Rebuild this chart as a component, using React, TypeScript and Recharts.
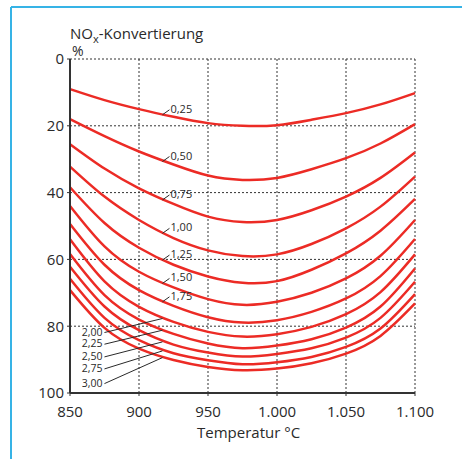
import React from 'react';
import { LineChart, Line, XAxis, YAxis, CartesianGrid, ReferenceDot } from 'recharts';

// temperature steps (°C) read along the x axis
const temps = [850, 875, 900, 925, 950, 975, 1000, 1025, 1050, 1075, 1100];

// NOx conversion (%) per NH3/NOx ratio
const nox025 = [9.0, 12.3, 15.0, 17.3, 19.2, 20.0, 19.8, 18.2, 16.2, 13.6, 10.2];
const nox050 = [18.0, 23.1, 27.7, 31.6, 34.9, 36.2, 35.6, 33.0, 29.7, 25.3, 19.5];
const nox075 = [25.5, 32.8, 38.7, 43.4, 47.2, 48.8, 48.2, 45.3, 41.2, 35.6, 28.0];
const nox100 = [32.2, 41.2, 48.2, 53.6, 57.3, 59.0, 58.5, 55.4, 50.7, 44.2, 35.2];
const nox125 = [38.4, 49.1, 56.5, 61.6, 65.1, 67.0, 66.5, 63.1, 58.2, 51.4, 41.9];
const nox150 = [44.0, 56.1, 63.7, 68.4, 71.9, 73.6, 72.7, 70.0, 65.7, 58.9, 48.2];
const nox175 = [49.4, 61.6, 69.2, 73.9, 77.3, 78.9, 78.2, 75.7, 71.7, 65.0, 53.9];
const nox200 = [54.0, 66.6, 74.2, 78.7, 81.7, 83.1, 82.4, 80.2, 76.4, 69.8, 58.5];
const nox225 = [58.4, 70.7, 78.0, 82.3, 85.2, 86.6, 85.8, 83.9, 80.4, 74.1, 62.7];
const nox250 = [62.2, 74.1, 81.2, 85.5, 87.9, 89.1, 88.3, 86.6, 83.4, 77.5, 66.7];
const nox275 = [65.8, 77.5, 84.2, 88.1, 90.2, 91.4, 90.8, 89.2, 86.2, 80.7, 70.4];
const nox300 = [69.2, 80.5, 86.7, 90.1, 92.2, 93.2, 92.7, 91.1, 88.2, 82.9, 73.2];

const ratioLabels = ['0,25', '0,50', '0,75', '1,00', '1,25', '1,50', '1,75', '2,00', '2,25', '2,50', '2,75', '3,00'];

// where each label's leader line touches its curve
const labelTemp = 917;
const labelNox = [16.7, 30.7, 42.2, 52.2, 60.2, 67.2, 72.7, 77.7, 81.2, 84.7, 87.4, 89.4];

const xTicks = [850, 900, 950, 1000, 1050, 1100];
const xTickLabels = ['850', '900', '950', '1.000', '1.050', '1.100'];
const yTicks = [0, 20, 40, 60, 80, 100];

const series = [nox025, nox050, nox075, nox100, nox125, nox150, nox175, nox200, nox225, nox250, nox275, nox300];

const chartData = temps.map((t, i) => {
  const row: any = { t };
  series.forEach((s, k) => {
    row[`s${k}`] = s[i];
  });
  return row;
});

const FONT = '"Open Sans", "Noto Sans", sans-serif';
const RED = '#ec2b25';
const INK = '#2a2a2a';

// vertical drop (px) of the long leaders for the lower labels
const lowLeader = [14, 14, 15, 18, 26];

const CurveLabel = ({ cx, cy, text, idx }: any) => {
  if (cx == null || cy == null) return null;
  if (idx < 7) {
    return (
      <g>
        <line x1={cx} y1={cy} x2={cx + 7} y2={cy - 5} stroke={INK} strokeWidth={1} />
        <text x={cx + 8} y={cy - 2} fontSize={11} fontFamily={FONT} fill={INK}>
          {text}
        </text>
      </g>
    );
  }
  const dy = lowLeader[idx - 7];
  return (
    <g>
      <line x1={cx} y1={cy} x2={cx - 58} y2={cy + dy} stroke={INK} strokeWidth={1} />
      <text x={cx - 60} y={cy + dy + 3} fontSize={10.5} fontFamily={FONT} fill={INK} textAnchor="end">
        {text}
      </text>
    </g>
  );
};

export default function App() {
  const tickStyle = { fontSize: 15, fontFamily: FONT, fill: INK };
  return (
    <div style={{ position: 'absolute', left: 0, top: 0, width: 462, height: 459, background: '#fff' }}>
      <LineChart
        width={462}
        height={459}
        data={chartData}
        margin={{ top: 59, right: 47, bottom: 36, left: 20 }}
      >
        <CartesianGrid stroke="#333" strokeDasharray="2 2" strokeWidth={1} />
        <XAxis
          dataKey="t"
          type="number"
          domain={[850, 1100]}
          ticks={xTicks}
          tickFormatter={(v: number) => xTickLabels[xTicks.indexOf(v)]}
          height={30}
          tick={tickStyle}
          tickSize={3}
          tickMargin={10}
          axisLine={{ stroke: '#333', strokeWidth: 2 }}
          tickLine={{ stroke: '#333' }}
          interval={0}
        />
        <YAxis
          type="number"
          reversed
          domain={[0, 100]}
          ticks={yTicks}
          width={50}
          tick={tickStyle}
          tickSize={3}
          tickMargin={3}
          axisLine={{ stroke: '#333', strokeWidth: 2 }}
          tickLine={{ stroke: '#333' }}
          interval={0}
        />
        {series.map((_, k) => (
          <Line
            key={k}
            type="natural"
            dataKey={`s${k}`}
            stroke={RED}
            strokeWidth={2.5}
            dot={false}
            activeDot={false}
            isAnimationActive={false}
          />
        ))}
        {labelNox.map((y, k) => (
          <ReferenceDot
            key={`lab${k}`}
            x={labelTemp}
            y={y}
            r={0}
            shape={(p: any) => <CurveLabel cx={p.cx} cy={p.cy} text={ratioLabels[k]} idx={k} />}
          />
        ))}
      </LineChart>
      <svg
        width={462}
        height={459}
        style={{ position: 'absolute', left: 0, top: 0, pointerEvents: 'none' }}
      >
        <line x1={11} y1={7} x2={462} y2={7} stroke="#36b3e6" strokeWidth={2} />
        <line x1={11} y1={7} x2={11} y2={459} stroke="#36b3e6" strokeWidth={2} />
        <text x={70} y={39} fontSize={15} fontFamily={FONT} fill={INK}>
          NO
          <tspan fontSize={11} dy={4}>x</tspan>
          <tspan dy={-4}>-Konvertierung</tspan>
        </text>
        <text x={72} y={56} fontSize={14} fontFamily={FONT} fill={INK}>%</text>
        <text x={197} y={438} fontSize={15} fontFamily={FONT} fill={INK}>Temperatur °C</text>
      </svg>
    </div>
  );
}
